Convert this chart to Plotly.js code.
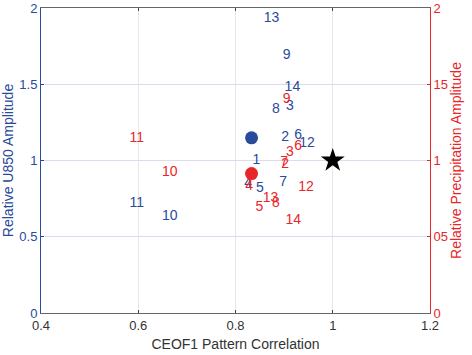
<!DOCTYPE html>
<html><head><meta charset="utf-8">
<script src="https://cdn.plot.ly/plotly-3.0.1.min.js"></script>
<style>html,body{margin:0;padding:0;background:#fff}</style>
</head><body><div id="chart" style="width:472px;height:355px"></div>
<script>
// U850 (blue) labels
const blueLabels = ['13','9','14','3','8','2','6','12','1','4','5','7','11','10'];
const blueX = [0.874,0.905,0.917,0.912,0.883,0.902,0.929,0.947,0.843,0.826,0.850,0.898,0.597,0.665];
const blueY = [1.93,1.69,1.48,1.357,1.335,1.153,1.164,1.11,1.002,0.85,0.814,0.857,0.717,0.63];
// Precipitation (red) labels
const redLabels = ['9','6','3','7','2','4','12','13','8','5','14','11','10'];
const redX = [0.905,0.929,0.912,0.900,0.902,0.828,0.945,0.872,0.883,0.849,0.919,0.597,0.665];
const redY = [1.40,1.094,1.05,0.985,0.972,0.831,0.82,0.754,0.717,0.693,0.607,1.145,0.923];
// Ensemble mean markers and reference star
const blueMeanX = [0.833], blueMeanY = [1.149];
const redMeanX = [0.833], redMeanY = [0.914];
const starX = [1.0], starY = [1.0];
const xTicks = [0.4,0.6,0.8,1.0,1.2];
const xTickText = ['0.4','0.6','0.8','1','1.2'];
const yTicks = [0,0.5,1,1.5,2];
const yTickText = ['0','0.5','1','1.5','2'];
const y2TickText = ['0','05','1','15','2'];

const BLUE = '#2a4a9c', RED = '#e8262a';
const font = 'Liberation Sans, Arial, sans-serif';

const traces = [
  {x: blueX, y: blueY, text: blueLabels, mode: 'text', type: 'scatter',
   textfont: {color: BLUE, size: 14, family: font}, textposition: 'middle center',
   xaxis: 'x', yaxis: 'y', hoverinfo: 'none'},
  {x: blueMeanX, y: blueMeanY, mode: 'markers', type: 'scatter',
   marker: {color: BLUE, size: 13}, xaxis: 'x', yaxis: 'y'},
  {x: redX, y: redY, text: redLabels, mode: 'text', type: 'scatter',
   textfont: {color: RED, size: 14, family: font}, textposition: 'middle center',
   xaxis: 'x', yaxis: 'y2', hoverinfo: 'none'},
  {x: redMeanX, y: redMeanY, mode: 'markers', type: 'scatter',
   marker: {color: RED, size: 13}, xaxis: 'x', yaxis: 'y2'},
  {x: starX, y: starY, mode: 'markers', type: 'scatter',
   marker: {color: '#000', size: 18, symbol: 'star'}, xaxis: 'x', yaxis: 'y2'}
];

const layout = {
  width: 472, height: 355,
  margin: {l: 41, r: 42, t: 8, b: 42},
  paper_bgcolor: '#fff', plot_bgcolor: '#fff',
  showlegend: false,
  font: {family: font, size: 13, color: '#333'},
  xaxis: {
    range: [0.4, 1.2], tickvals: xTicks, ticktext: xTickText,
    showgrid: true, gridcolor: '#e6e6e6', zeroline: false,
    showline: true, linecolor: '#666', linewidth: 1, mirror: 'ticks',
    ticks: 'inside', ticklen: 3, tickcolor: '#444',
    tickfont: {color: '#333', size: 13, family: font},
    title: {text: 'CEOF1 Pattern Correlation', font: {color: '#333', size: 14, family: font}, standoff: 7}
  },
  yaxis: {
    range: [0, 2], tickvals: yTicks, ticktext: yTickText,
    showgrid: true, gridcolor: '#dcdcee', zeroline: false,
    showline: true, linecolor: BLUE, linewidth: 1,
    ticks: 'inside', ticklen: 3, tickcolor: BLUE,
    tickfont: {color: BLUE, size: 13, family: font},
    title: {text: 'Relative U850 Amplitude', font: {color: BLUE, size: 14, family: font}, standoff: 4}
  },
  yaxis2: {
    range: [0, 2], tickvals: yTicks, ticktext: y2TickText,
    overlaying: 'y', side: 'right', showgrid: false, zeroline: false,
    showline: true, linecolor: RED, linewidth: 1,
    ticks: 'inside', ticklen: 3, tickcolor: RED,
    tickfont: {color: RED, size: 13, family: font},
    title: {text: 'Relative Precipitation Amplitude', font: {color: RED, size: 14, family: font}, standoff: 4}
  }
};

Plotly.newPlot('chart', traces, layout, {staticPlot: true, displayModeBar: false});
</script>
</body></html>
